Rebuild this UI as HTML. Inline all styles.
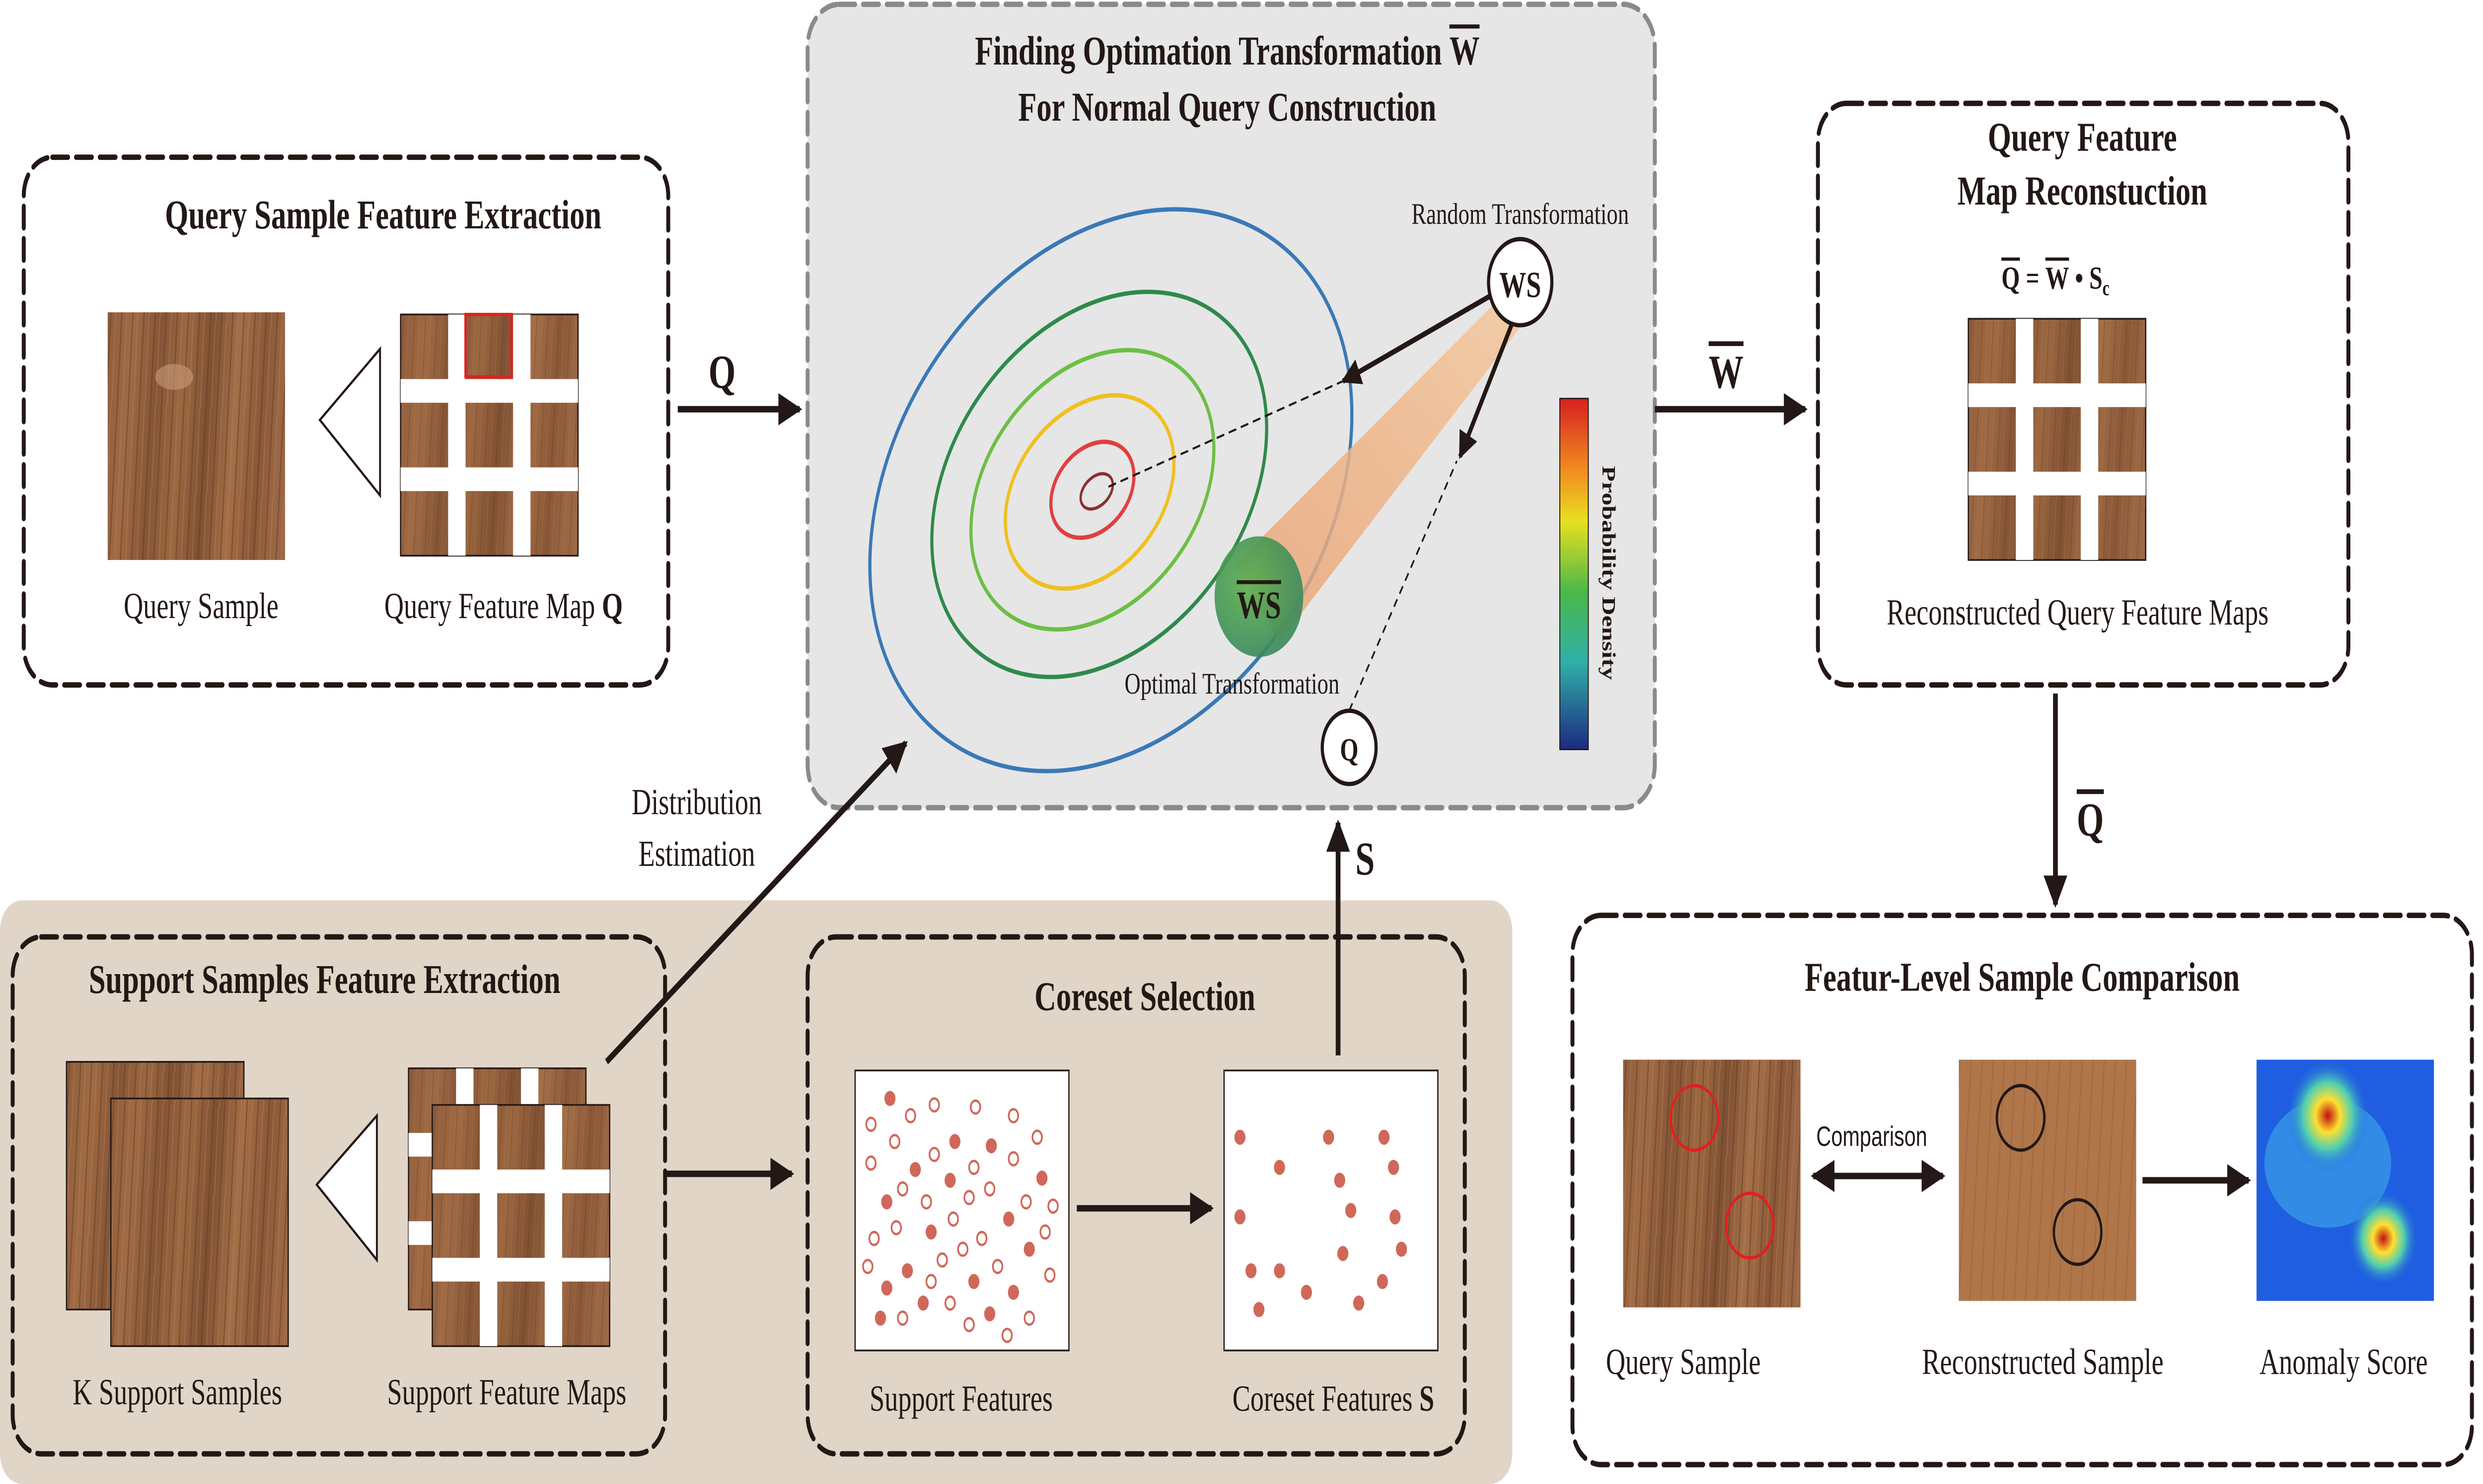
<!DOCTYPE html>
<html><head><meta charset="utf-8"><style>html,body{margin:0;padding:0;background:#fff;width:100%;height:100%;overflow:hidden}svg{display:block;width:100vw;height:100vh}</style></head>
<body>
<svg xmlns="http://www.w3.org/2000/svg" viewBox="0 0 1568 689" preserveAspectRatio="none" font-family="'Liberation Serif', serif">
<defs>
<linearGradient id="wood" x1="0" y1="0" x2="1" y2="0.1">
<stop offset="0" stop-color="#8e5c3b"/><stop offset="0.15" stop-color="#a06b45"/><stop offset="0.3" stop-color="#855536"/><stop offset="0.45" stop-color="#9c6841"/><stop offset="0.6" stop-color="#7f5033"/><stop offset="0.75" stop-color="#a46f48"/><stop offset="0.9" stop-color="#8a5838"/><stop offset="1" stop-color="#9a6643"/>
</linearGradient>
<pattern id="grain" width="7" height="40" patternUnits="userSpaceOnUse" patternTransform="rotate(4)">
<rect width="7" height="40" fill="none"/><line x1="2" y1="0" x2="2" y2="40" stroke="#5e3a22" stroke-width="0.8" opacity="0.5"/><line x1="5" y1="0" x2="5.5" y2="40" stroke="#b88058" stroke-width="0.6" opacity="0.5"/>
</pattern>
<linearGradient id="cbar" x1="0" y1="0" x2="0" y2="1">
<stop offset="0" stop-color="#d62020"/><stop offset="0.2" stop-color="#f08a20"/><stop offset="0.35" stop-color="#e8e020"/><stop offset="0.55" stop-color="#4cb848"/><stop offset="0.75" stop-color="#30b0a8"/><stop offset="1" stop-color="#1c2a80"/>
</linearGradient>
<radialGradient id="gball" cx="0.4" cy="0.4" r="0.6"><stop offset="0" stop-color="#5cb04c"/><stop offset="1" stop-color="#3a8a5a"/></radialGradient>
<radialGradient id="hot" cx="0.5" cy="0.5" r="0.5"><stop offset="0" stop-color="#c01010"/><stop offset="0.3" stop-color="#ffe030"/><stop offset="0.6" stop-color="#50d0b0"/><stop offset="1" stop-color="#2060e0" stop-opacity="0"/></radialGradient>
<linearGradient id="cone" x1="1" y1="0" x2="0" y2="1"><stop offset="0" stop-color="#f3c9a0" stop-opacity="0.9"/><stop offset="1" stop-color="#e9a070" stop-opacity="0.8"/></linearGradient>
<marker id="ah" viewBox="0 0 10 10" refX="9" refY="5" markerWidth="5" markerHeight="5" orient="auto"><path d="M0,0 L10,5 L0,10 z" fill="#231815"/></marker>
<marker id="ah2" viewBox="0 0 10 10" refX="1" refY="5" markerWidth="5" markerHeight="5" orient="auto"><path d="M10,0 L0,5 L10,10 z" fill="#231815"/></marker>
<g id="woodsq"><rect width="112" height="115" fill="url(#wood)"/><rect width="112" height="115" fill="url(#grain)"/></g>
<g id="fmap">
<rect x="0" y="0" width="112" height="112" fill="url(#wood)" stroke="#231815" stroke-width="0.8"/>
<rect width="112" height="112" fill="url(#grain)" opacity="0.5"/>
<rect x="30" y="0" width="11" height="112" fill="#fff"/><rect x="71" y="0" width="11" height="112" fill="#fff"/><rect x="0" y="30" width="112" height="11" fill="#fff"/><rect x="0" y="71" width="112" height="11" fill="#fff"/>
</g>
</defs>

<rect x="0" y="418" width="955" height="271" rx="14" fill="#e1d5c7"/>

<g fill="none" stroke="#231815" stroke-width="2.5" stroke-dasharray="10 5" stroke-linecap="round">
<rect x="15" y="73" width="407" height="245" rx="18"/>
<rect x="1148" y="48" width="335" height="270" rx="18"/>
<rect x="993" y="425" width="568" height="255" rx="18"/>
<rect x="8" y="435" width="412" height="240" rx="18"/>
<rect x="510" y="435" width="415" height="240" rx="18"/>
</g>
<rect x="510" y="2" width="535" height="373" rx="20" fill="#e6e6e6" stroke="#8a8a8a" stroke-width="2.5" stroke-dasharray="10 5" stroke-linecap="round"/>

<g fill="#231815" font-weight="bold" font-size="19" text-anchor="middle">
<text x="242" y="106">Query Sample Feature Extraction</text>
<text x="775" y="30">Finding Optimation Transformation <tspan text-decoration="overline">W</tspan></text>
<text x="775" y="56">For Normal Query Construction</text>
<text x="1315" y="70">Query Feature</text>
<text x="1315" y="95">Map Reconstuction</text>
<text x="1277" y="460">Featur-Level Sample Comparison</text>
<text x="205" y="461">Support Samples Feature Extraction</text>
<text x="723" y="469">Coreset Selection</text>
</g>
<g fill="#231815" font-size="17" text-anchor="middle">
<text x="127" y="287">Query Sample</text>
<text x="318" y="287">Query Feature Map <tspan font-weight="bold">Q</tspan></text>
<text x="1312" y="290">Reconstructed Query Feature Maps</text>
<text x="1063" y="638">Query Sample</text>
<text x="1290" y="638">Reconstructed Sample</text>
<text x="1480" y="638">Anomaly Score</text>
<text x="112" y="652">K Support Samples</text>
<text x="320" y="652">Support Feature Maps</text>
<text x="607" y="655">Support Features</text>
<text x="842" y="655">Coreset Features <tspan font-weight="bold">S</tspan></text>
<text x="440" y="378">Distribution</text>
<text x="440" y="402">Estimation</text>
</g>
<g fill="#231815" font-weight="bold" font-size="22" text-anchor="middle">
<text x="456" y="180">Q</text>
<text x="1090" y="180" text-decoration="overline">W</text>
<text x="1320" y="388" text-decoration="overline">Q</text>
<text x="862" y="406">S</text>
</g>
<text x="1298" y="134" font-size="15" font-weight="bold" text-anchor="middle" fill="#231815"><tspan text-decoration="overline">Q</tspan> = <tspan text-decoration="overline">W</tspan> • S<tspan font-size="10" dy="3">c</tspan></text>

<use href="#woodsq" x="68" y="145"/>
<ellipse cx="110" cy="175" rx="12" ry="6" fill="#c99a7a" opacity="0.6"/>
<path d="M202,195 L240,162 L240,230 Z" fill="#fff" stroke="#231815" stroke-width="1.2"/>
<use href="#fmap" x="253" y="146"/>
<rect x="294" y="146" width="29" height="29" fill="none" stroke="#e02020" stroke-width="1.5"/>

<use href="#fmap" x="1243" y="148"/>

<use href="#woodsq" x="42" y="493"/>
<rect x="42" y="493" width="112" height="115" fill="none" stroke="#231815" stroke-width="0.8"/>
<use href="#woodsq" x="70" y="510"/>
<rect x="70" y="510" width="112" height="115" fill="none" stroke="#231815" stroke-width="0.8"/>
<path d="M200,550 L238,518 L238,585 Z" fill="#fff" stroke="#231815" stroke-width="1.2"/>
<use href="#fmap" x="258" y="496"/>
<use href="#fmap" x="273" y="513"/>

<rect x="540" y="497" width="135" height="130" fill="#fff" stroke="#231815" stroke-width="0.8"/>
<rect x="773" y="497" width="135" height="130" fill="#fff" stroke="#231815" stroke-width="0.8"/>
<g fill="#d0685a">
<circle cx="562" cy="510" r="3.5"/><circle cx="603" cy="530" r="3.5"/><circle cx="626" cy="532" r="3.5"/><circle cx="578" cy="543" r="3.5"/><circle cx="658" cy="547" r="3.5"/><circle cx="600" cy="548" r="3.5"/><circle cx="560" cy="558" r="3.5"/><circle cx="637" cy="566" r="3.5"/><circle cx="588" cy="572" r="3.5"/><circle cx="650" cy="580" r="3.5"/><circle cx="573" cy="590" r="3.5"/><circle cx="560" cy="598" r="3.5"/><circle cx="615" cy="595" r="3.5"/><circle cx="625" cy="610" r="3.5"/><circle cx="583" cy="605" r="3.5"/><circle cx="556" cy="612" r="3.5"/><circle cx="640" cy="600" r="3.5"/>
<circle cx="783" cy="528" r="3.5"/><circle cx="839" cy="528" r="3.5"/><circle cx="874" cy="528" r="3.5"/><circle cx="808" cy="542" r="3.5"/><circle cx="846" cy="548" r="3.5"/><circle cx="880" cy="542" r="3.5"/><circle cx="853" cy="562" r="3.5"/><circle cx="881" cy="565" r="3.5"/><circle cx="783" cy="565" r="3.5"/><circle cx="790" cy="590" r="3.5"/><circle cx="808" cy="590" r="3.5"/><circle cx="848" cy="582" r="3.5"/><circle cx="885" cy="580" r="3.5"/><circle cx="795" cy="608" r="3.5"/><circle cx="825" cy="600" r="3.5"/><circle cx="858" cy="605" r="3.5"/><circle cx="873" cy="595" r="3.5"/>
</g>
<g fill="none" stroke="#d0685a" stroke-width="1.1">
<circle cx="550" cy="522" r="3"/><circle cx="575" cy="518" r="3"/><circle cx="590" cy="513" r="3"/><circle cx="616" cy="514" r="3"/><circle cx="640" cy="518" r="3"/><circle cx="655" cy="528" r="3"/><circle cx="565" cy="530" r="3"/><circle cx="590" cy="536" r="3"/><circle cx="615" cy="542" r="3"/><circle cx="640" cy="538" r="3"/><circle cx="550" cy="540" r="3"/><circle cx="570" cy="552" r="3"/><circle cx="585" cy="558" r="3"/><circle cx="612" cy="556" r="3"/><circle cx="625" cy="552" r="3"/><circle cx="648" cy="558" r="3"/><circle cx="665" cy="560" r="3"/><circle cx="552" cy="575" r="3"/><circle cx="566" cy="570" r="3"/><circle cx="602" cy="566" r="3"/><circle cx="620" cy="575" r="3"/><circle cx="660" cy="572" r="3"/><circle cx="548" cy="588" r="3"/><circle cx="595" cy="585" r="3"/><circle cx="608" cy="580" r="3"/><circle cx="630" cy="588" r="3"/><circle cx="663" cy="592" r="3"/><circle cx="588" cy="595" r="3"/><circle cx="600" cy="605" r="3"/><circle cx="570" cy="612" r="3"/><circle cx="612" cy="615" r="3"/><circle cx="650" cy="612" r="3"/><circle cx="636" cy="620" r="3"/>
</g>

<g fill="none" stroke-width="2" transform="rotate(-30 700 225)">
<ellipse cx="700" cy="228" rx="162" ry="118" stroke="#3a78b8"/>
<ellipse cx="695" cy="222" rx="113" ry="80" stroke="#2f8a4a"/>
<ellipse cx="690" cy="222" rx="82" ry="58" stroke="#6cbf45"/>
<ellipse cx="688" cy="222" rx="57" ry="40" stroke="#f0c020"/>
<ellipse cx="690" cy="222" rx="28" ry="20" stroke="#e04040"/>
<ellipse cx="692" cy="224" rx="11" ry="7" stroke="#8a3030" stroke-width="1.5"/>
</g>
<path d="M945,140 L960,152 L808,298 L780,262 Z" fill="url(#cone)"/>
<circle cx="795" cy="277" r="28" fill="url(#gball)" opacity="0.9"/>
<text x="795" y="287" font-size="18" font-weight="bold" text-anchor="middle" fill="#231815" text-decoration="overline">WS</text>
<line x1="700" y1="226" x2="848" y2="177" stroke="#231815" stroke-width="1" stroke-dasharray="5 3"/>
<line x1="852" y1="330" x2="920" y2="214" stroke="#231815" stroke-width="1" stroke-dasharray="4 3"/>
<line x1="942" y1="137" x2="848" y2="177" stroke="#231815" stroke-width="2.5" marker-end="url(#ah)"/>
<line x1="955" y1="150" x2="922" y2="212" stroke="#231815" stroke-width="2.5" marker-end="url(#ah)"/>
<circle cx="960" cy="131" r="20" fill="#fff" stroke="#231815" stroke-width="2"/>
<text x="960" y="138" font-size="17" font-weight="bold" text-anchor="middle" fill="#231815">WS</text>
<text x="960" y="104" font-size="14" text-anchor="middle" fill="#231815">Random Transformation</text>
<text x="778" y="322" font-size="14" text-anchor="middle" fill="#231815">Optimal Transformation</text>
<circle cx="852" cy="347" r="17" fill="#fff" stroke="#231815" stroke-width="2"/>
<text x="852" y="353" font-size="15" font-weight="bold" text-anchor="middle" fill="#231815">Q</text>
<rect x="985" y="185" width="18" height="163" fill="url(#cbar)" stroke="#231815" stroke-width="0.6"/>
<text x="1012" y="266" font-size="12" font-weight="bold" text-anchor="middle" fill="#231815" transform="rotate(90 1012 266)">Probability Density</text>

<use href="#woodsq" x="1025" y="492"/>
<circle cx="1070" cy="519" r="15" fill="none" stroke="#e02020" stroke-width="1.5"/>
<circle cx="1105" cy="569" r="15" fill="none" stroke="#e02020" stroke-width="1.5"/>
<rect x="1237" y="492" width="112" height="112" fill="#b0764a"/>
<rect x="1237" y="492" width="112" height="112" fill="url(#grain)" opacity="0.35"/>
<circle cx="1276" cy="519" r="15" fill="none" stroke="#231815" stroke-width="1.5"/>
<circle cx="1312" cy="572" r="15" fill="none" stroke="#231815" stroke-width="1.5"/>
<rect x="1425" y="492" width="112" height="112" fill="#1f5ee0"/>
<ellipse cx="1470" cy="540" rx="40" ry="30" fill="#3aa0e8" opacity="0.7"/>
<ellipse cx="1470" cy="518" rx="26" ry="26" fill="url(#hot)"/>
<ellipse cx="1505" cy="575" rx="22" ry="22" fill="url(#hot)"/>
<text x="1182" y="532" font-size="13" font-family="'Liberation Sans', sans-serif" text-anchor="middle" fill="#231815">Comparison</text>

<g stroke="#231815" stroke-width="3" fill="none">
<line x1="428" y1="190" x2="505" y2="190" marker-end="url(#ah)"/>
<line x1="1045" y1="190" x2="1140" y2="190" marker-end="url(#ah)"/>
<line x1="1298" y1="322" x2="1298" y2="420" marker-end="url(#ah)"/>
<line x1="383" y1="493" x2="572" y2="345" marker-end="url(#ah)"/>
<line x1="420" y1="545" x2="500" y2="545" marker-end="url(#ah)"/>
<line x1="680" y1="561" x2="765" y2="561" marker-end="url(#ah)"/>
<line x1="845" y1="490" x2="845" y2="382" marker-end="url(#ah)"/>
<line x1="1145" y1="546" x2="1227" y2="546" marker-end="url(#ah)" marker-start="url(#ah2)"/>
<line x1="1353" y1="548" x2="1420" y2="548" marker-end="url(#ah)"/>
</g>
</svg>
</body></html>
